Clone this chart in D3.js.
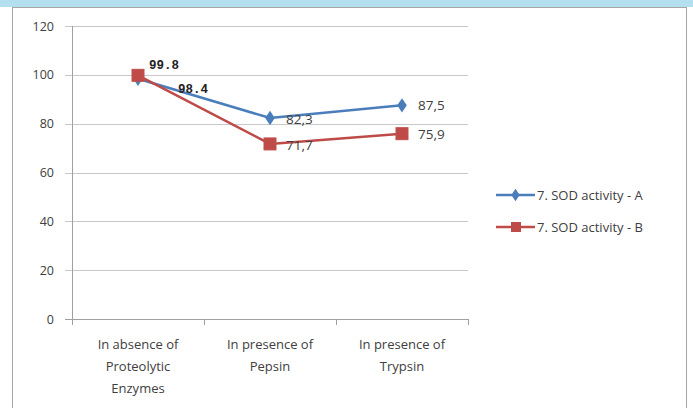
<!DOCTYPE html>
<html><head><meta charset="utf-8">
<script src="https://cdn.jsdelivr.net/npm/d3@7"></script>
<style>body{margin:0;background:#fff;}svg{display:block;}</style>
</head><body>
<svg id="c" width="693" height="408"></svg>
<script>
const categories = [["In absence of","Proteolytic","Enzymes"],["In presence of","Pepsin"],["In presence of","Trypsin"]];
const seriesA = [98.4, 82.3, 87.5];
const seriesB = [99.8, 71.7, 75.9];
const labelsA = ["98.4","82,3","87,5"];
const labelsB = ["99.8","71,7","75,9"];
const yTicks = [0,20,40,60,80,100,120];
const seriesNames = ["7. SOD activity - A","7. SOD activity - B"];

const svg = d3.select("#c");
svg.append("rect").attr("x",0).attr("y",0).attr("width",693).attr("height",7).attr("fill","#b3dfee");
svg.append("rect").attr("x",12.5).attr("y",7.5).attr("width",674).attr("height",410).attr("fill","#fff").attr("stroke","#a6a6a6").attr("stroke-width",1);

const x = d3.scaleBand().domain(d3.range(3)).range([72,468]);
const y = d3.scaleLinear().domain([0,120]).range([319,26]);
const g = svg.append("g");

g.selectAll(".grid").data(yTicks).enter().append("line")
 .attr("x1",65).attr("x2",468).attr("y1",d=>Math.round(y(d))+0.5).attr("y2",d=>Math.round(y(d))+0.5)
 .attr("stroke",d=>d===0?"#a0a0a0":"#c8c8c8").attr("stroke-width",1);
g.append("line").attr("x1",72.5).attr("x2",72.5).attr("y1",26).attr("y2",319).attr("stroke","#a0a0a0");
g.selectAll(".yl").data(yTicks).enter().append("text")
 .attr("x",54).attr("y",d=>y(d)+4.5).attr("text-anchor","end")
 .attr("font-family","Open Sans, sans-serif").attr("font-size",12.5).attr("fill","#404040").text(d=>d);
g.selectAll(".xt").data([0,1,2,3]).enter().append("line")
 .attr("x1",d=>Math.round(72+d*x.bandwidth())+0.5).attr("x2",d=>Math.round(72+d*x.bandwidth())+0.5)
 .attr("y1",319).attr("y2",325).attr("stroke","#a0a0a0");
categories.forEach((lines,i)=>{
  const t = g.append("text").attr("text-anchor","middle").attr("font-family","Open Sans, sans-serif").attr("font-size",13).attr("fill","#404040");
  lines.forEach((l,j)=>t.append("tspan").attr("x",x(i)+x.bandwidth()/2).attr("y",349+j*22).text(l));
});

const cx = i=>x(i)+x.bandwidth()/2;
const line = d3.line().x((d,i)=>cx(i)).y(d=>y(d));
g.append("path").datum(seriesA).attr("d",line).attr("fill","none").attr("stroke","#4a7ebb").attr("stroke-width",2.5);
g.append("path").datum(seriesB).attr("d",line).attr("fill","none").attr("stroke","#be4b48").attr("stroke-width",2.5);
g.selectAll(".ma").data(seriesA).enter().append("path")
 .attr("d",d3.symbol(d3.symbolDiamond,60)).attr("transform",(d,i)=>`translate(${cx(i)},${y(d)}) scale(1.15,1)`).attr("fill","#4a7ebb");
g.selectAll(".mb").data(seriesB).enter().append("rect")
 .attr("x",(d,i)=>cx(i)-6).attr("y",d=>y(d)-6).attr("width",12).attr("height",12).attr("fill","#be4b48").attr("stroke","#c0504d");

const lblStyle = (s,mono)=>s.attr("font-family",mono?"Liberation Mono, Courier New, monospace":"Open Sans, sans-serif")
  .attr("font-size",mono?12.5:13.5).attr("font-weight",mono?"bold":"normal").attr("fill",mono?"#222":"#404040");
lblStyle(g.append("text").attr("x",cx(0)+11).attr("y",y(seriesB[0])-6).text(labelsB[0]),true);
lblStyle(g.append("text").attr("x",cx(0)+40).attr("y",y(seriesA[0])+14).text(labelsA[0]),true);
[1,2].forEach(i=>{
  lblStyle(g.append("text").attr("x",cx(i)+16).attr("y",y(seriesA[i])+(i===1?6:5)).text(labelsA[i]),false);
  lblStyle(g.append("text").attr("x",cx(i)+16).attr("y",y(seriesB[i])+(i===1?6:5)).text(labelsB[i]),false);
});

const colors=["#4a7ebb","#be4b48"];
seriesNames.forEach((n,i)=>{
  const ly = 195+i*32;
  g.append("line").attr("x1",496).attr("x2",535).attr("y1",ly).attr("y2",ly).attr("stroke",colors[i]).attr("stroke-width",2.5);
  if(i===0) g.append("path").attr("d",d3.symbol(d3.symbolDiamond,45)).attr("transform",`translate(515.5,${ly}) scale(1.15,1)`).attr("fill",colors[0]);
  else g.append("rect").attr("x",511).attr("y",ly-5).attr("width",10).attr("height",10).attr("fill",colors[1]);
  g.append("text").attr("x",537).attr("y",ly+5).attr("font-family","Open Sans, sans-serif").attr("font-size",13).attr("fill","#404040").text(n);
});
</script>
</body></html>
